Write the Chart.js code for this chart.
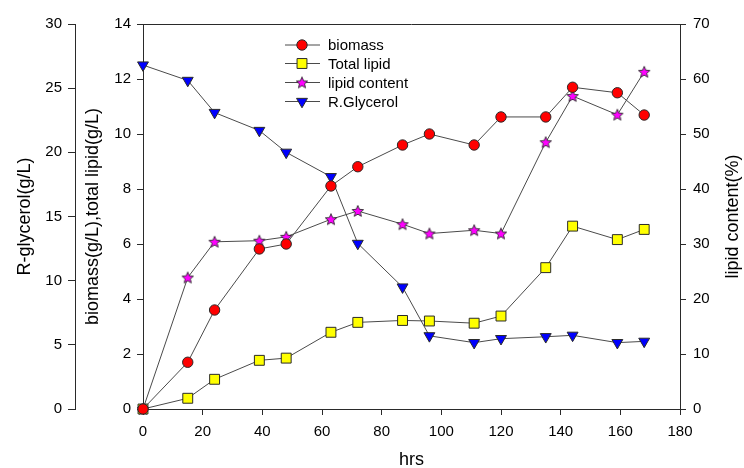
<!DOCTYPE html>
<html>
<head>
<meta charset="utf-8">
<script src="https://cdn.jsdelivr.net/npm/chart.js@4/dist/chart.umd.min.js"></script>
<style>
  html, body { margin: 0; padding: 0; background: #fff; }
  #wrap { width: 744px; height: 468px; }
</style>
</head>
<body>
<div id="wrap"><canvas id="c" width="744" height="468"></canvas></div>
<script>
// Sampling times (hrs)
const hours = [0, 15, 24, 39, 48, 63, 72, 87, 96, 111, 120, 135, 144, 159, 168];
// Biomass (g/L)
const biomass = [0, 1.70, 3.60, 5.82, 6.00, 8.11, 8.81, 9.60, 10.00, 9.60, 10.62, 10.62, 11.70, 11.50, 10.69];
// Total lipid (g/L)
const totalLipid = [0, 0.39, 1.08, 1.77, 1.85, 2.79, 3.15, 3.22, 3.20, 3.12, 3.38, 5.14, 6.65, 6.16, 6.53];
// Lipid content (%)
const lipidContent = [0, 23.9, 30.4, 30.6, 31.3, 34.5, 36.0, 33.6, 31.9, 32.5, 31.9, 48.5, 56.9, 53.5, 61.3];
// Residual glycerol (g/L)
const glycerol = [26.8, 25.6, 23.1, 21.7, 20.0, 18.1, 12.9, 9.5, 5.7, 5.17, 5.48, 5.63, 5.74, 5.17, 5.27];

const seriesNames = ['biomass', 'Total lipid', 'lipid content', 'R.Glycerol'];
const axisTitles = { x: 'hrs', glycerol: 'R-glycerol(g/L)', mass: 'biomass(g/L),total lipid(g/L)', content: 'lipid content(%)' };

const FONT = '"Liberation Sans", Arial, sans-serif';
const LINE = '#4a4a4a';
const EDGE = '#2a2a2a';

// five-pointed star marker
function makeStar(size, fill) {
  const c = document.createElement('canvas');
  c.width = size; c.height = size;
  const g = c.getContext('2d');
  const cx = size / 2, cy = size / 2 + 0.5, ro = size / 2 - 1, ri = ro * 0.45;
  g.beginPath();
  for (let i = 0; i < 10; i++) {
    const r = i % 2 ? ri : ro;
    const a = -Math.PI / 2 + i * Math.PI / 5;
    g.lineTo(cx + r * Math.cos(a), cy + r * Math.sin(a));
  }
  g.closePath();
  g.fillStyle = fill; g.fill();
  g.strokeStyle = EDGE; g.lineWidth = 0.9; g.stroke();
  return c;
}
const star = makeStar(14, '#ff00ff');

const pts = (ys) => hours.map((h, i) => ({ x: h, y: ys[i] }));

const markers = [
  { pointStyle: 'circle', radius: 5.2, rotation: 0, fill: '#ff0000' },
  { pointStyle: 'rect', radius: 7, rotation: 0, fill: '#ffff00' },
  { pointStyle: star, radius: 7, rotation: 0, fill: '#ff00ff' },
  { pointStyle: 'triangle', radius: 6.3, rotation: 180, fill: '#0000ff' }
];

function ds(label, data, axis, m) {
  return {
    label, data, yAxisID: axis,
    borderColor: LINE, borderWidth: 1, tension: 0, fill: false, clip: false,
    pointStyle: m.pointStyle, pointRadius: m.radius, pointRotation: m.rotation,
    pointBackgroundColor: m.fill, pointBorderColor: EDGE, pointBorderWidth: 1,
    pointHoverRadius: m.radius
  };
}

function axisGrid(len) {
  return { display: true, drawOnChartArea: false, drawTicks: true, tickLength: len, color: EDGE, tickColor: EDGE };
}
const tickFont = { family: FONT, size: 15 };

// axis titles, upper frame line and key
const overlay = {
  id: 'overlay',
  afterDraw(chart) {
    const { ctx, chartArea: a, scales } = chart;
    ctx.save();
    ctx.strokeStyle = EDGE; ctx.lineWidth = 1;
    ctx.beginPath(); ctx.moveTo(a.left, a.top + 0.5); ctx.lineTo(a.right, a.top + 0.5); ctx.stroke();

    ctx.fillStyle = '#000';
    ctx.font = '18px ' + FONT;
    ctx.textAlign = 'center'; ctx.textBaseline = 'middle';
    const midY = (a.top + a.bottom) / 2;
    const vText = (t, x) => { ctx.save(); ctx.translate(x, midY); ctx.rotate(-Math.PI / 2); ctx.fillText(t, 0, 0); ctx.restore(); };
    vText(axisTitles.glycerol, scales.yG.left + 25);
    vText(axisTitles.mass, scales.yB.left + 18);
    vText(axisTitles.content, scales.yL.left + 53);
    ctx.fillText(axisTitles.x, (a.left + a.right) / 2, 460);

    // key
    const rows = [45, 63.5, 82.5, 101.5];
    ctx.font = '15px ' + FONT; ctx.textAlign = 'left';
    seriesNames.forEach((name, i) => {
      const y = rows[i];
      ctx.strokeStyle = LINE; ctx.lineWidth = 1;
      ctx.beginPath(); ctx.moveTo(285, y); ctx.lineTo(320, y); ctx.stroke();
      const m = markers[i];
      ctx.fillStyle = m.fill; ctx.strokeStyle = EDGE; ctx.lineWidth = 1;
      Chart.helpers.drawPoint(ctx, { pointStyle: m.pointStyle, radius: m.radius, rotation: m.rotation, borderWidth: 1 }, 302, y);
      ctx.fillStyle = '#000';
      ctx.fillText(name, 328, y + 1);
    });
    ctx.restore();
  }
};

new Chart(document.getElementById('c'), {
  type: 'line',
  data: {
    datasets: [
      ds(seriesNames[0], pts(biomass), 'yB', markers[0]),
      ds(seriesNames[1], pts(totalLipid), 'yB', markers[1]),
      ds(seriesNames[2], pts(lipidContent), 'yL', markers[2]),
      ds(seriesNames[3], pts(glycerol), 'yG', markers[3])
    ]
  },
  options: {
    responsive: false,
    animation: false,
    devicePixelRatio: 1,
    layout: { padding: { left: 0, right: 0, top: 24, bottom: 0 } },
    plugins: { legend: { display: false }, tooltip: { enabled: false } },
    scales: {
      x: {
        type: 'linear', min: 0, max: 180,
        ticks: { stepSize: 20, font: tickFont, color: '#000', padding: 8, maxRotation: 0 },
        grid: axisGrid(6), border: { display: true, color: EDGE, width: 1 },
        afterFit(s) { s.height = 59; }
      },
      yG: {
        type: 'linear', position: 'left', weight: 1, min: 0, max: 30,
        ticks: { stepSize: 5, font: tickFont, color: '#000', padding: 6 },
        grid: axisGrid(7), border: { display: true, color: EDGE, width: 1 },
        afterFit(s) { s.width = 75; }
      },
      yB: {
        type: 'linear', position: 'left', weight: 0, min: 0, max: 14,
        ticks: { stepSize: 2, font: tickFont, color: '#000', padding: 6 },
        grid: axisGrid(6), border: { display: true, color: EDGE, width: 1 },
        afterFit(s) { s.width = 68; }
      },
      yL: {
        type: 'linear', position: 'right', min: 0, max: 70,
        ticks: { stepSize: 10, font: tickFont, color: '#000', padding: 7 },
        grid: axisGrid(6), border: { display: true, color: EDGE, width: 1 },
        afterFit(s) { s.width = 64; }
      }
    }
  },
  plugins: [overlay]
});
</script>
</body>
</html>
